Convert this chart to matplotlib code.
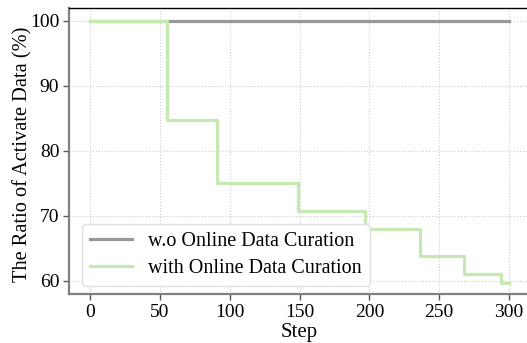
import matplotlib
matplotlib.use("Agg")
import matplotlib.pyplot as plt
import numpy as np

plt.rcParams['font.family'] = ['Liberation Serif', 'DejaVu Serif']
plt.rcParams['mathtext.fontset'] = 'stix'

# step change points and values for curated run
step_edges = [0, 55, 91, 149, 197, 236, 268, 294, 300]
ratio_vals = [100, 84.7, 75.0, 70.8, 68.0, 63.9, 61.1, 59.7]
baseline_steps = [0, 300]
baseline_vals = [100, 100]

xticks = [0, 50, 100, 150, 200, 250, 300]
yticks = [60, 70, 80, 90, 100]

fig = plt.figure(figsize=(5.27, 3.43), dpi=100)
ax = fig.add_axes([69/527, 1-294/343, 461/527, 286/343])

# build step curve
xs, ys = [], []
for i, v in enumerate(ratio_vals):
    xs += [step_edges[i], step_edges[i+1]]
    ys += [v, v]

ax.plot(baseline_steps, baseline_vals, color='#999999', lw=2.3, label='w.o Online Data Curation', zorder=2)
ax.plot(xs, ys, color='#c6e8b3', lw=2.3, label='with Online Data Curation', zorder=3)

ax.set_xlim(-15, 315)
ax.set_ylim(58, 102)
ax.set_xticks(xticks)
ax.set_yticks(yticks)
ax.grid(True, linestyle=':', color='#cccccc', lw=0.8)
ax.tick_params(axis='both', labelsize=14, color='#555555', length=4, width=1, pad=3)
ax.set_xlabel('Step', fontsize=15, labelpad=2)
ax.set_ylabel('The Ratio of Activate Data (%)', fontsize=14.7)
ax.yaxis.set_label_coords(-0.08, 0.49)

for s in ['left', 'bottom']:
    ax.spines[s].set_color('#808080')
    ax.spines[s].set_linewidth(1.6)
ax.spines['top'].set_linewidth(1.0)
ax.spines['right'].set_visible(False)

leg = ax.legend(loc='lower left', fontsize=14.5, frameon=True, fancybox=True,
                bbox_to_anchor=(13/461, 8/286), borderaxespad=0, handlelength=2.1,
                handletextpad=0.8, borderpad=0.4, labelspacing=0.4)
leg.get_frame().set_edgecolor('#dddddd')
leg.get_frame().set_alpha(0.9)

fig.savefig('out.png', dpi=100)
